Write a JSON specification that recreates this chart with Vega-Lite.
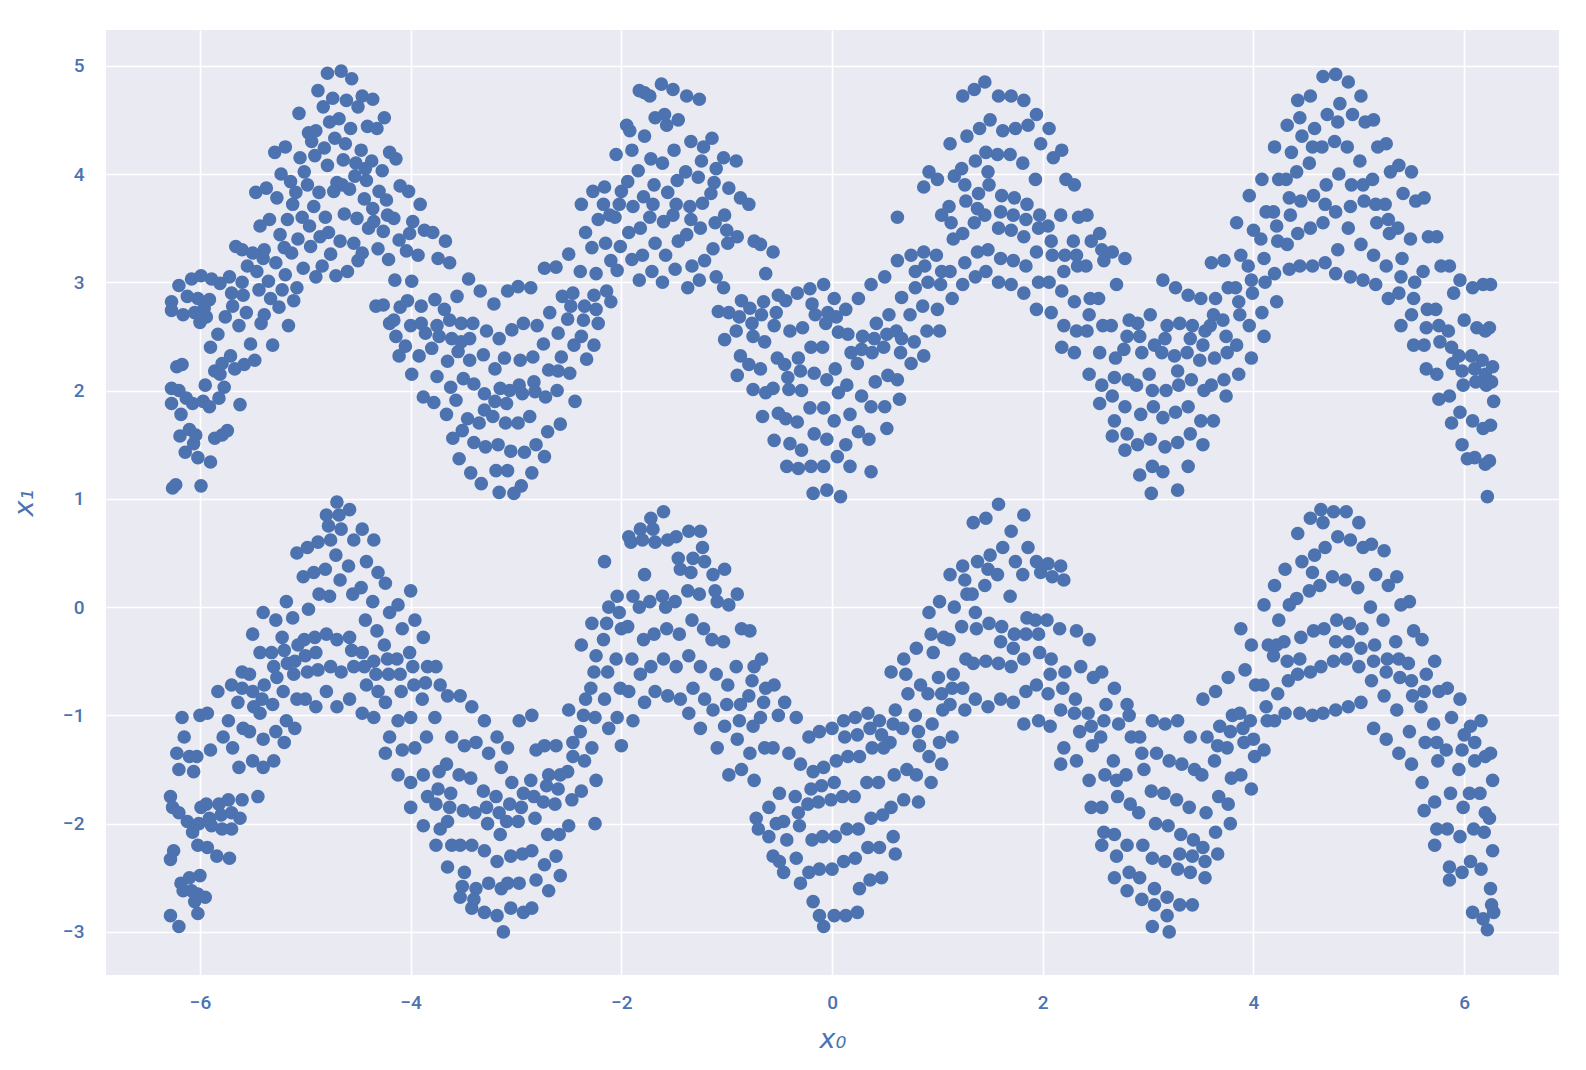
{"$schema":"https://vega.github.io/schema/vega-lite/v6.json","width":1453,"height":945,"padding":{"left":106,"top":30,"right":27,"bottom":95},"autosize":{"type":"none"},"background":"white","view":{"fill":"#EAEAF2","stroke":null},
"data":{"values":[
{"a":-6.27,"b":2.82},{"a":-6.27,"b":2.74},{"a":-6.2,"b":2.97},{"a":-6.16,"b":2.7},{"a":-6.22,"b":2.22},{"a":-6.27,"b":2.02},{"a":-6.27,"b":1.88},{"a":-6.17,"b":2.24},{"a":-6.2,"b":2},{"a":-6.26,"b":1.1},{"a":-6.23,"b":1.13},{"a":-6.19,"b":1.58},{"a":-6.14,"b":1.43},{"a":-6.18,"b":1.78},
{"a":-6.12,"b":2.87},{"a":-6.08,"b":3.03},{"a":-6.05,"b":2.72},{"a":-6.13,"b":1.93},{"a":-6.07,"b":1.88},{"a":-6.06,"b":1.51},{"a":-6.1,"b":1.64},{"a":-6.02,"b":2.85},
{"a":-5.99,"b":3.06},{"a":-5.96,"b":2.76},{"a":-6,"b":2.63},{"a":-5.97,"b":1.9},{"a":-6.02,"b":1.38},{"a":-5.99,"b":1.12},{"a":-6.04,"b":1.59},{"a":-5.95,"b":2.05},
{"a":-5.89,"b":3.03},{"a":-5.91,"b":2.84},{"a":-5.94,"b":2.68},{"a":-5.9,"b":2.4},{"a":-5.86,"b":2.18},{"a":-5.91,"b":1.85},{"a":-5.9,"b":1.34},{"a":-5.86,"b":1.56},
{"a":-5.81,"b":2.99},{"a":-5.76,"b":2.68},{"a":-5.83,"b":2.52},{"a":-5.81,"b":2.15},{"a":-5.77,"b":2.03},{"a":-5.79,"b":1.59},{"a":-5.74,"b":1.63},{"a":-5.82,"b":1.93},{"a":-5.79,"b":2.25},
{"a":-5.66,"b":3.33},{"a":-5.72,"b":3.05},{"a":-5.69,"b":2.78},{"a":-5.63,"b":2.6},{"a":-5.71,"b":2.32},{"a":-5.67,"b":2.2},{"a":-5.62,"b":1.87},{"a":-5.7,"b":2.9},
{"a":-5.6,"b":3.3},{"a":-5.55,"b":3.15},{"a":-5.59,"b":2.88},{"a":-5.56,"b":2.72},{"a":-5.52,"b":2.43},{"a":-5.58,"b":2.24},{"a":-5.6,"b":3},
{"a":-5.47,"b":3.83},{"a":-5.43,"b":3.52},{"a":-5.5,"b":3.27},{"a":-5.46,"b":3.1},{"a":-5.44,"b":2.93},{"a":-5.42,"b":2.62},{"a":-5.48,"b":2.28},{"a":-5.4,"b":3.22},
{"a":-5.37,"b":3.87},{"a":-5.34,"b":3.58},{"a":-5.39,"b":3.3},{"a":-5.35,"b":3.01},{"a":-5.33,"b":2.85},{"a":-5.39,"b":2.7},{"a":-5.31,"b":2.42},
{"a":-5.29,"b":4.2},{"a":-5.23,"b":4},{"a":-5.27,"b":3.78},{"a":-5.24,"b":3.44},{"a":-5.28,"b":3.18},{"a":-5.22,"b":2.93},{"a":-5.25,"b":2.77},{"a":-5.2,"b":3.32},
{"a":-5.19,"b":4.25},{"a":-5.14,"b":3.93},{"a":-5.12,"b":3.72},{"a":-5.17,"b":3.58},{"a":-5.13,"b":3.27},{"a":-5.19,"b":3.07},{"a":-5.11,"b":2.83},{"a":-5.16,"b":2.6},
{"a":-5.06,"b":4.56},{"a":-5.01,"b":4.02},{"a":-5.09,"b":3.83},{"a":-5.03,"b":3.6},{"a":-5.07,"b":3.4},{"a":-5.02,"b":3.13},{"a":-5.08,"b":2.95},{"a":-5.05,"b":4.15},
{"a":-4.97,"b":4.38},{"a":-4.91,"b":4.17},{"a":-4.98,"b":3.9},{"a":-4.92,"b":3.7},{"a":-4.95,"b":3.33},{"a":-4.9,"b":3.05},{"a":-4.96,"b":3.52},{"a":-4.94,"b":4.3},
{"a":-4.88,"b":4.77},{"a":-4.83,"b":4.62},{"a":-4.9,"b":4.4},{"a":-4.82,"b":4.24},{"a":-4.87,"b":3.83},{"a":-4.81,"b":3.6},{"a":-4.86,"b":3.42},{"a":-4.84,"b":3.15},
{"a":-4.79,"b":4.93},{"a":-4.74,"b":4.7},{"a":-4.77,"b":4.48},{"a":-4.72,"b":4.33},{"a":-4.79,"b":4.08},{"a":-4.73,"b":3.84},{"a":-4.78,"b":3.46},{"a":-4.71,"b":3.06},{"a":-4.76,"b":3.26},{"a":-4.7,"b":3.92},
{"a":-4.66,"b":4.95},{"a":-4.61,"b":4.68},{"a":-4.68,"b":4.51},{"a":-4.62,"b":4.28},{"a":-4.65,"b":3.9},{"a":-4.63,"b":3.63},{"a":-4.67,"b":3.38},{"a":-4.6,"b":3.1},{"a":-4.64,"b":4.13},
{"a":-4.56,"b":4.88},{"a":-4.5,"b":4.62},{"a":-4.57,"b":4.42},{"a":-4.52,"b":4.1},{"a":-4.58,"b":3.86},{"a":-4.51,"b":3.59},{"a":-4.54,"b":3.36},{"a":-4.5,"b":3.2},{"a":-4.53,"b":3.98},
{"a":-4.46,"b":4.72},{"a":-4.41,"b":4.44},{"a":-4.47,"b":4.22},{"a":-4.42,"b":3.94},{"a":-4.44,"b":3.77},{"a":-4.4,"b":3.5},{"a":-4.46,"b":3.27},{"a":-4.43,"b":4.05},
{"a":-4.36,"b":4.69},{"a":-4.32,"b":4.42},{"a":-4.37,"b":4.12},{"a":-4.3,"b":3.84},{"a":-4.35,"b":3.56},{"a":-4.31,"b":3.31},{"a":-4.33,"b":2.78},{"a":-4.36,"b":3.68},
{"a":-4.25,"b":4.52},{"a":-4.2,"b":4.2},{"a":-4.27,"b":4.03},{"a":-4.23,"b":3.76},{"a":-4.26,"b":3.47},{"a":-4.21,"b":3.21},{"a":-4.2,"b":2.62},{"a":-4.26,"b":2.79},{"a":-4.22,"b":3.62},
{"a":-4.14,"b":4.14},{"a":-4.1,"b":3.89},{"a":-4.16,"b":3.59},{"a":-4.11,"b":3.39},{"a":-4.15,"b":3.02},{"a":-4.1,"b":2.77},{"a":-4.14,"b":2.5},{"a":-4.11,"b":2.32},{"a":-4.16,"b":2.65},
{"a":-4.02,"b":3.84},{"a":-3.98,"b":3.56},{"a":-4.04,"b":3.29},{"a":-3.99,"b":3.01},{"a":-4.03,"b":2.83},{"a":-4,"b":2.6},{"a":-4.05,"b":2.41},{"a":-3.99,"b":2.15},{"a":-4.01,"b":3.45},
{"a":-3.91,"b":3.72},{"a":-3.87,"b":3.48},{"a":-3.93,"b":3.25},{"a":-3.9,"b":2.78},{"a":-3.86,"b":2.53},{"a":-3.92,"b":2.32},{"a":-3.88,"b":1.94},{"a":-3.9,"b":2.62},
{"a":-3.79,"b":3.46},{"a":-3.74,"b":3.22},{"a":-3.77,"b":2.84},{"a":-3.75,"b":2.6},{"a":-3.8,"b":2.39},{"a":-3.75,"b":2.13},{"a":-3.78,"b":1.89},{"a":-3.73,"b":2.5},
{"a":-3.67,"b":3.38},{"a":-3.63,"b":3.18},{"a":-3.68,"b":2.75},{"a":-3.61,"b":2.48},{"a":-3.65,"b":2.27},{"a":-3.62,"b":2.03},{"a":-3.66,"b":1.78},{"a":-3.6,"b":1.56},{"a":-3.63,"b":2.65},
{"a":-3.56,"b":2.87},{"a":-3.52,"b":2.62},{"a":-3.55,"b":2.36},{"a":-3.5,"b":2.11},{"a":-3.57,"b":1.91},{"a":-3.51,"b":1.63},{"a":-3.54,"b":1.37},{"a":-3.52,"b":2.45},
{"a":-3.45,"b":3.03},{"a":-3.41,"b":2.62},{"a":-3.44,"b":2.28},{"a":-3.4,"b":2.06},{"a":-3.46,"b":1.74},{"a":-3.4,"b":1.52},{"a":-3.43,"b":1.24},{"a":-3.44,"b":2.48},
{"a":-3.34,"b":2.92},{"a":-3.28,"b":2.55},{"a":-3.31,"b":2.33},{"a":-3.3,"b":1.97},{"a":-3.35,"b":1.7},{"a":-3.29,"b":1.48},{"a":-3.33,"b":1.14},{"a":-3.3,"b":1.82},
{"a":-3.21,"b":2.8},{"a":-3.16,"b":2.48},{"a":-3.2,"b":2.2},{"a":-3.15,"b":2.02},{"a":-3.22,"b":1.76},{"a":-3.17,"b":1.5},{"a":-3.19,"b":1.26},{"a":-3.16,"b":1.06},{"a":-3.2,"b":1.9},
{"a":-3.08,"b":2.92},{"a":-3.04,"b":2.56},{"a":-3.11,"b":2.3},{"a":-3.06,"b":2},{"a":-3.1,"b":1.7},{"a":-3.05,"b":1.44},{"a":-3.08,"b":1.26},{"a":-3.02,"b":1.05},{"a":-3.09,"b":1.88},
{"a":-2.98,"b":2.96},{"a":-2.93,"b":2.62},{"a":-2.96,"b":2.28},{"a":-2.94,"b":1.97},{"a":-2.98,"b":1.7},{"a":-2.92,"b":1.43},{"a":-2.95,"b":1.12},{"a":-2.97,"b":2.05},
{"a":-2.86,"b":2.95},{"a":-2.8,"b":2.6},{"a":-2.84,"b":2.31},{"a":-2.82,"b":1.99},{"a":-2.87,"b":1.76},{"a":-2.81,"b":1.5},{"a":-2.85,"b":1.24},{"a":-2.83,"b":2.08},
{"a":-2.73,"b":3.13},{"a":-2.68,"b":2.72},{"a":-2.74,"b":2.43},{"a":-2.69,"b":2.19},{"a":-2.72,"b":1.94},{"a":-2.7,"b":1.62},{"a":-2.73,"b":1.39},
{"a":-2.62,"b":3.14},{"a":-2.56,"b":2.87},{"a":-2.6,"b":2.53},{"a":-2.57,"b":2.31},{"a":-2.61,"b":2},{"a":-2.58,"b":1.69},{"a":-2.6,"b":2.18},
{"a":-2.5,"b":3.26},{"a":-2.46,"b":2.9},{"a":-2.51,"b":2.66},{"a":-2.45,"b":2.42},{"a":-2.49,"b":2.16},{"a":-2.44,"b":1.9},{"a":-2.48,"b":2.78},
{"a":-2.38,"b":3.72},{"a":-2.34,"b":3.46},{"a":-2.39,"b":3.1},{"a":-2.35,"b":2.78},{"a":-2.38,"b":2.5},{"a":-2.33,"b":2.29},{"a":-2.36,"b":2.65},
{"a":-2.27,"b":3.84},{"a":-2.22,"b":3.58},{"a":-2.28,"b":3.32},{"a":-2.24,"b":3.08},{"a":-2.26,"b":2.88},{"a":-2.22,"b":2.62},{"a":-2.26,"b":2.42},{"a":-2.24,"b":2.75},
{"a":-2.16,"b":3.88},{"a":-2.11,"b":3.62},{"a":-2.15,"b":3.36},{"a":-2.1,"b":3.2},{"a":-2.14,"b":2.92},{"a":-2.1,"b":2.82},{"a":-2.17,"b":3.72},
{"a":-2.05,"b":4.18},{"a":-2,"b":3.84},{"a":-2.06,"b":3.6},{"a":-2.01,"b":3.33},{"a":-2.04,"b":3.11},{"a":-2.02,"b":3.72},
{"a":-1.95,"b":4.45},{"a":-1.9,"b":4.22},{"a":-1.94,"b":3.93},{"a":-1.89,"b":3.7},{"a":-1.93,"b":3.46},{"a":-1.9,"b":3.21},{"a":-1.92,"b":4.4},
{"a":-1.83,"b":4.77},{"a":-1.78,"b":4.35},{"a":-1.84,"b":4.03},{"a":-1.79,"b":3.79},{"a":-1.82,"b":3.5},{"a":-1.8,"b":3.25},{"a":-1.83,"b":3.02},{"a":-1.78,"b":4.75},
{"a":-1.73,"b":4.72},{"a":-1.68,"b":4.52},{"a":-1.72,"b":4.14},{"a":-1.69,"b":3.9},{"a":-1.73,"b":3.6},{"a":-1.68,"b":3.36},{"a":-1.71,"b":3.1},{"a":-1.7,"b":3.72},
{"a":-1.62,"b":4.83},{"a":-1.57,"b":4.45},{"a":-1.61,"b":4.1},{"a":-1.56,"b":3.83},{"a":-1.6,"b":3.56},{"a":-1.58,"b":3.25},{"a":-1.61,"b":3},{"a":-1.59,"b":4.55},
{"a":-1.51,"b":4.78},{"a":-1.46,"b":4.5},{"a":-1.5,"b":4.22},{"a":-1.47,"b":3.94},{"a":-1.51,"b":3.62},{"a":-1.46,"b":3.38},{"a":-1.49,"b":3.12},{"a":-1.48,"b":3.72},
{"a":-1.38,"b":4.72},{"a":-1.34,"b":4.3},{"a":-1.39,"b":4.02},{"a":-1.35,"b":3.7},{"a":-1.38,"b":3.44},{"a":-1.33,"b":3.15},{"a":-1.37,"b":2.95},{"a":-1.34,"b":3.58},
{"a":-1.26,"b":4.69},{"a":-1.22,"b":4.25},{"a":-1.27,"b":3.97},{"a":-1.23,"b":3.73},{"a":-1.25,"b":3.5},{"a":-1.21,"b":3.2},{"a":-1.26,"b":3.02},{"a":-1.24,"b":4.12},
{"a":-1.14,"b":4.33},{"a":-1.1,"b":4.05},{"a":-1.15,"b":3.82},{"a":-1.11,"b":3.55},{"a":-1.13,"b":3.31},{"a":-1.1,"b":3.05},{"a":-1.08,"b":2.73},{"a":-1.12,"b":3.92},
{"a":-1.03,"b":4.15},{"a":-0.98,"b":3.87},{"a":-1.02,"b":3.62},{"a":-0.99,"b":3.36},{"a":-1.03,"b":2.95},{"a":-0.98,"b":2.72},{"a":-1.02,"b":2.47},{"a":-1,"b":3.48},
{"a":-0.91,"b":4.12},{"a":-0.87,"b":3.78},{"a":-0.9,"b":3.42},{"a":-0.86,"b":2.83},{"a":-0.91,"b":2.55},{"a":-0.87,"b":2.32},{"a":-0.9,"b":2.14},{"a":-0.88,"b":2.68},
{"a":-0.79,"b":3.72},{"a":-0.74,"b":3.38},{"a":-0.78,"b":2.76},{"a":-0.75,"b":2.5},{"a":-0.79,"b":2.24},{"a":-0.75,"b":2.01},{"a":-0.76,"b":2.62},
{"a":-0.68,"b":3.35},{"a":-0.63,"b":3.08},{"a":-0.67,"b":2.7},{"a":-0.64,"b":2.45},{"a":-0.68,"b":2.2},{"a":-0.63,"b":1.98},{"a":-0.66,"b":1.76},{"a":-0.65,"b":2.82},
{"a":-0.56,"b":3.28},{"a":-0.51,"b":2.88},{"a":-0.55,"b":2.6},{"a":-0.52,"b":2.3},{"a":-0.56,"b":2.02},{"a":-0.51,"b":1.79},{"a":-0.55,"b":1.54},{"a":-0.53,"b":2.72},
{"a":-0.44,"b":2.83},{"a":-0.4,"b":2.55},{"a":-0.45,"b":2.24},{"a":-0.41,"b":2.01},{"a":-0.44,"b":1.74},{"a":-0.4,"b":1.51},{"a":-0.43,"b":1.3},{"a":-0.42,"b":2.12},
{"a":-0.33,"b":2.9},{"a":-0.28,"b":2.58},{"a":-0.32,"b":2.3},{"a":-0.29,"b":2},{"a":-0.33,"b":1.71},{"a":-0.29,"b":1.45},{"a":-0.32,"b":1.28},{"a":-0.3,"b":2.18},
{"a":-0.21,"b":2.94},{"a":-0.16,"b":2.7},{"a":-0.2,"b":2.4},{"a":-0.17,"b":2.16},{"a":-0.21,"b":1.84},{"a":-0.17,"b":1.6},{"a":-0.2,"b":1.3},{"a":-0.18,"b":1.05},{"a":-0.19,"b":2.8},
{"a":-0.08,"b":2.98},{"a":-0.04,"b":2.72},{"a":-0.09,"b":2.4},{"a":-0.05,"b":2.1},{"a":-0.08,"b":1.84},{"a":-0.05,"b":1.55},{"a":-0.08,"b":1.3},{"a":-0.05,"b":1.08},{"a":-0.06,"b":2.62},
{"a":0.02,"b":2.85},{"a":0.06,"b":2.54},{"a":0.03,"b":2.2},{"a":0.06,"b":1.98},{"a":0.02,"b":1.72},{"a":0.05,"b":1.39},{"a":0.08,"b":1.02},{"a":0.04,"b":2.68},
{"a":0.13,"b":2.75},{"a":0.18,"b":2.35},{"a":0.14,"b":2.05},{"a":0.17,"b":1.78},{"a":0.13,"b":1.5},{"a":0.17,"b":1.3},{"a":0.15,"b":2.52},
{"a":0.25,"b":2.85},{"a":0.29,"b":2.5},{"a":0.24,"b":2.25},{"a":0.28,"b":1.95},{"a":0.25,"b":1.62},{"a":0.37,"b":1.25},{"a":0.28,"b":2.38},
{"a":0.37,"b":2.98},{"a":0.42,"b":2.62},{"a":0.38,"b":2.35},{"a":0.41,"b":2.08},{"a":0.37,"b":1.85},{"a":0.35,"b":1.55},{"a":0.4,"b":2.48},
{"a":0.5,"b":3.05},{"a":0.54,"b":2.7},{"a":0.49,"b":2.4},{"a":0.53,"b":2.14},{"a":0.5,"b":1.85},{"a":0.52,"b":1.65},{"a":0.52,"b":2.52},
{"a":0.62,"b":3.2},{"a":0.66,"b":2.86},{"a":0.61,"b":2.55},{"a":0.65,"b":2.35},{"a":0.62,"b":2.1},{"a":0.64,"b":1.92},{"a":0.66,"b":2.48},
{"a":0.75,"b":3.25},{"a":0.79,"b":2.95},{"a":0.74,"b":2.7},{"a":0.78,"b":2.45},{"a":0.75,"b":2.25},{"a":0.62,"b":3.6},{"a":0.79,"b":3.1},
{"a":0.87,"b":3.28},{"a":0.91,"b":3},{"a":0.86,"b":2.78},{"a":0.9,"b":2.55},{"a":0.87,"b":2.32},{"a":0.87,"b":3.88},{"a":0.92,"b":4.02},{"a":0.88,"b":3.15},
{"a":1,"b":3.95},{"a":1.04,"b":3.62},{"a":0.99,"b":3.25},{"a":1.03,"b":2.98},{"a":1,"b":2.75},{"a":1.02,"b":2.55},{"a":1.04,"b":3.1},
{"a":1.12,"b":4.28},{"a":1.16,"b":3.98},{"a":1.11,"b":3.7},{"a":1.15,"b":3.4},{"a":1.12,"b":3.1},{"a":1.14,"b":2.85},{"a":1.13,"b":3.55},
{"a":1.24,"b":4.72},{"a":1.28,"b":4.35},{"a":1.23,"b":4.05},{"a":1.27,"b":3.75},{"a":1.24,"b":3.45},{"a":1.26,"b":3.18},{"a":1.24,"b":2.98},{"a":1.26,"b":3.9},
{"a":1.35,"b":4.78},{"a":1.4,"b":4.42},{"a":1.36,"b":4.12},{"a":1.39,"b":3.82},{"a":1.35,"b":3.55},{"a":1.38,"b":3.28},{"a":1.36,"b":3.05},{"a":1.38,"b":3.68},
{"a":1.45,"b":4.85},{"a":1.5,"b":4.5},{"a":1.46,"b":4.2},{"a":1.49,"b":3.9},{"a":1.45,"b":3.62},{"a":1.48,"b":3.3},{"a":1.46,"b":3.1},{"a":1.48,"b":4.02},
{"a":1.58,"b":4.72},{"a":1.62,"b":4.4},{"a":1.57,"b":4.18},{"a":1.61,"b":3.8},{"a":1.58,"b":3.5},{"a":1.6,"b":3.22},{"a":1.58,"b":3},{"a":1.6,"b":3.65},
{"a":1.7,"b":4.72},{"a":1.74,"b":4.42},{"a":1.69,"b":4.18},{"a":1.73,"b":3.78},{"a":1.7,"b":3.48},{"a":1.72,"b":3.2},{"a":1.7,"b":2.98},{"a":1.72,"b":3.62},
{"a":1.82,"b":4.68},{"a":1.86,"b":4.45},{"a":1.81,"b":4.1},{"a":1.85,"b":3.72},{"a":1.82,"b":3.42},{"a":1.84,"b":3.15},{"a":1.82,"b":2.9},{"a":1.84,"b":3.58},
{"a":1.94,"b":4.55},{"a":1.98,"b":4.28},{"a":1.93,"b":3.95},{"a":1.97,"b":3.62},{"a":1.94,"b":3.28},{"a":1.96,"b":3},{"a":1.94,"b":2.75},{"a":1.96,"b":3.5},
{"a":2.06,"b":4.42},{"a":2.1,"b":4.15},{"a":2.05,"b":3.52},{"a":2.09,"b":3.25},{"a":2.06,"b":3},{"a":2.08,"b":2.72},{"a":2.08,"b":3.38},
{"a":2.18,"b":4.22},{"a":2.22,"b":3.95},{"a":2.17,"b":3.62},{"a":2.21,"b":3.25},{"a":2.18,"b":2.92},{"a":2.2,"b":2.6},{"a":2.18,"b":2.4},{"a":2.2,"b":3.1},
{"a":2.3,"b":3.9},{"a":2.34,"b":3.6},{"a":2.29,"b":3.38},{"a":2.33,"b":3.15},{"a":2.3,"b":2.82},{"a":2.32,"b":2.55},{"a":2.3,"b":2.35},{"a":2.32,"b":3.25},
{"a":2.42,"b":3.62},{"a":2.46,"b":3.38},{"a":2.41,"b":3.15},{"a":2.45,"b":2.85},{"a":2.42,"b":2.55},{"a":2.44,"b":2.15},{"a":2.44,"b":2.7},
{"a":2.54,"b":3.45},{"a":2.58,"b":3.2},{"a":2.53,"b":2.85},{"a":2.57,"b":2.6},{"a":2.54,"b":2.35},{"a":2.56,"b":2.05},{"a":2.54,"b":1.88},{"a":2.56,"b":3.3},
{"a":2.66,"b":3.28},{"a":2.7,"b":2.98},{"a":2.65,"b":2.6},{"a":2.69,"b":2.3},{"a":2.66,"b":1.95},{"a":2.68,"b":1.72},{"a":2.66,"b":1.58},{"a":2.68,"b":2.12},
{"a":2.78,"b":3.22},{"a":2.82,"b":2.65},{"a":2.77,"b":2.38},{"a":2.81,"b":2.1},{"a":2.78,"b":1.85},{"a":2.8,"b":1.6},{"a":2.78,"b":1.45},{"a":2.8,"b":2.5},
{"a":2.9,"b":2.62},{"a":2.94,"b":2.35},{"a":2.89,"b":2.05},{"a":2.93,"b":1.78},{"a":2.9,"b":1.5},{"a":2.92,"b":1.22},{"a":2.92,"b":2.5},
{"a":3.02,"b":2.7},{"a":3.06,"b":2.42},{"a":3.01,"b":2.15},{"a":3.05,"b":1.85},{"a":3.02,"b":1.55},{"a":3.04,"b":1.3},{"a":3.03,"b":1.05},{"a":3.04,"b":2},
{"a":3.14,"b":3.02},{"a":3.18,"b":2.6},{"a":3.13,"b":2.35},{"a":3.17,"b":2},{"a":3.14,"b":1.75},{"a":3.16,"b":1.48},{"a":3.14,"b":1.25},{"a":3.16,"b":2.48},
{"a":3.26,"b":2.95},{"a":3.3,"b":2.62},{"a":3.25,"b":2.32},{"a":3.29,"b":2.05},{"a":3.26,"b":1.8},{"a":3.28,"b":1.52},{"a":3.28,"b":1.08},{"a":3.28,"b":2.18},
{"a":3.38,"b":2.88},{"a":3.42,"b":2.6},{"a":3.37,"b":2.35},{"a":3.41,"b":2.1},{"a":3.38,"b":1.85},{"a":3.4,"b":1.6},{"a":3.38,"b":1.3},{"a":3.4,"b":2.48},
{"a":3.5,"b":2.85},{"a":3.54,"b":2.55},{"a":3.49,"b":2.28},{"a":3.53,"b":2},{"a":3.5,"b":1.72},{"a":3.52,"b":1.5},{"a":3.52,"b":2.42},
{"a":3.6,"b":3.18},{"a":3.64,"b":2.85},{"a":3.59,"b":2.6},{"a":3.63,"b":2.3},{"a":3.6,"b":2.05},{"a":3.62,"b":1.72},{"a":3.62,"b":2.7},
{"a":3.72,"b":3.2},{"a":3.76,"b":2.95},{"a":3.71,"b":2.65},{"a":3.75,"b":2.35},{"a":3.72,"b":2.1},{"a":3.74,"b":1.95},{"a":3.74,"b":2.5},
{"a":3.84,"b":3.55},{"a":3.88,"b":3.25},{"a":3.83,"b":2.95},{"a":3.87,"b":2.7},{"a":3.84,"b":2.42},{"a":3.86,"b":2.15},{"a":3.86,"b":2.82},
{"a":3.96,"b":3.8},{"a":4,"b":3.48},{"a":3.95,"b":3.15},{"a":3.99,"b":2.9},{"a":3.96,"b":2.6},{"a":3.98,"b":2.3},{"a":3.98,"b":3.02},
{"a":4.08,"b":3.95},{"a":4.12,"b":3.65},{"a":4.07,"b":3.4},{"a":4.11,"b":3},{"a":4.08,"b":2.72},{"a":4.1,"b":2.5},{"a":4.1,"b":3.22},
{"a":4.2,"b":4.25},{"a":4.24,"b":3.95},{"a":4.19,"b":3.65},{"a":4.23,"b":3.38},{"a":4.2,"b":3.08},{"a":4.22,"b":2.82},{"a":4.22,"b":3.52},
{"a":4.32,"b":4.45},{"a":4.36,"b":4.2},{"a":4.31,"b":3.95},{"a":4.35,"b":3.62},{"a":4.32,"b":3.35},{"a":4.34,"b":3.12},{"a":4.34,"b":3.78},
{"a":4.42,"b":4.68},{"a":4.46,"b":4.35},{"a":4.41,"b":4.02},{"a":4.45,"b":3.75},{"a":4.42,"b":3.45},{"a":4.44,"b":3.15},{"a":4.44,"b":4.52},
{"a":4.54,"b":4.72},{"a":4.58,"b":4.42},{"a":4.53,"b":4.1},{"a":4.57,"b":3.8},{"a":4.54,"b":3.5},{"a":4.56,"b":3.15},{"a":4.56,"b":4.25},
{"a":4.66,"b":4.9},{"a":4.7,"b":4.55},{"a":4.65,"b":4.25},{"a":4.69,"b":3.9},{"a":4.66,"b":3.55},{"a":4.68,"b":3.18},{"a":4.68,"b":3.72},
{"a":4.78,"b":4.92},{"a":4.82,"b":4.65},{"a":4.77,"b":4.3},{"a":4.81,"b":4},{"a":4.78,"b":3.65},{"a":4.8,"b":3.3},{"a":4.78,"b":3.08},{"a":4.8,"b":4.48},
{"a":4.9,"b":4.85},{"a":4.94,"b":4.55},{"a":4.89,"b":4.25},{"a":4.93,"b":3.9},{"a":4.9,"b":3.5},{"a":4.92,"b":3.05},{"a":4.92,"b":3.7},
{"a":5.02,"b":4.72},{"a":5.06,"b":4.48},{"a":5.01,"b":4.12},{"a":5.05,"b":3.75},{"a":5.02,"b":3.35},{"a":5.04,"b":3.02},{"a":5.04,"b":3.9},
{"a":5.14,"b":4.5},{"a":5.18,"b":4.25},{"a":5.13,"b":3.95},{"a":5.17,"b":3.55},{"a":5.14,"b":3.25},{"a":5.16,"b":2.98},{"a":5.16,"b":3.72},
{"a":5.26,"b":4.28},{"a":5.3,"b":4.02},{"a":5.25,"b":3.72},{"a":5.29,"b":3.45},{"a":5.26,"b":3.15},{"a":5.28,"b":2.85},{"a":5.28,"b":3.58},
{"a":5.38,"b":4.08},{"a":5.42,"b":3.82},{"a":5.37,"b":3.5},{"a":5.41,"b":3.22},{"a":5.38,"b":2.9},{"a":5.4,"b":2.6},{"a":5.4,"b":3.05},
{"a":5.5,"b":4.02},{"a":5.54,"b":3.75},{"a":5.49,"b":3.4},{"a":5.53,"b":3},{"a":5.5,"b":2.7},{"a":5.52,"b":2.42},{"a":5.52,"b":2.85},
{"a":5.62,"b":3.78},{"a":5.66,"b":3.42},{"a":5.61,"b":3.1},{"a":5.65,"b":2.75},{"a":5.62,"b":2.42},{"a":5.64,"b":2.2},{"a":5.64,"b":2.58},
{"a":5.74,"b":3.42},{"a":5.78,"b":3.15},{"a":5.73,"b":2.75},{"a":5.77,"b":2.45},{"a":5.74,"b":2.15},{"a":5.76,"b":1.92},{"a":5.76,"b":2.6},
{"a":5.86,"b":3.15},{"a":5.9,"b":2.9},{"a":5.85,"b":2.55},{"a":5.89,"b":2.25},{"a":5.86,"b":1.95},{"a":5.88,"b":1.7},{"a":5.88,"b":2.4},
{"a":5.96,"b":3.02},{"a":6,"b":2.65},{"a":5.95,"b":2.32},{"a":5.99,"b":2.05},{"a":5.96,"b":1.8},{"a":5.98,"b":1.5},{"a":5.98,"b":2.18},
{"a":6.08,"b":2.95},{"a":6.12,"b":2.58},{"a":6.07,"b":2.32},{"a":6.11,"b":2.08},{"a":6.08,"b":1.72},{"a":6.1,"b":1.38},{"a":6.03,"b":1.37},{"a":6.1,"b":2.2},
{"a":6.18,"b":2.98},{"a":6.2,"b":2.55},{"a":6.17,"b":2.28},{"a":6.21,"b":2.05},{"a":6.18,"b":1.65},{"a":6.2,"b":1.32},{"a":6.2,"b":2.15},
{"a":6.25,"b":2.98},{"a":6.24,"b":2.58},{"a":6.27,"b":2.22},{"a":6.28,"b":1.9},{"a":6.25,"b":1.68},{"a":6.24,"b":1.35},{"a":6.22,"b":1.02},{"a":6.26,"b":2.08},
{"a":-6.28,"b":-1.75},{"a":-6.26,"b":-1.85},{"a":-6.28,"b":-2.33},{"a":-6.25,"b":-2.25},{"a":-6.28,"b":-2.85},{"a":-6.2,"b":-2.95},{"a":-6.22,"b":-1.35},{"a":-6.2,"b":-1.5},{"a":-6.2,"b":-1.9},{"a":-6.18,"b":-2.55},{"a":-6.16,"b":-2.62},{"a":-6.17,"b":-1.02},{"a":-6.15,"b":-1.2},
{"a":-6.1,"b":-1.38},{"a":-6.06,"b":-1.52},{"a":-6.12,"b":-1.98},{"a":-6.07,"b":-2.08},{"a":-6.1,"b":-2.5},{"a":-6.05,"b":-2.72},{"a":-6.08,"b":-2.62},
{"a":-6,"b":-1},{"a":-6.03,"b":-1.38},{"a":-5.99,"b":-1.85},{"a":-6.02,"b":-2.2},{"a":-6,"b":-2.48},{"a":-6.02,"b":-2.65},{"a":-6.02,"b":-2.83},{"a":-6.01,"b":-2},
{"a":-5.93,"b":-0.98},{"a":-5.9,"b":-1.32},{"a":-5.94,"b":-1.82},{"a":-5.89,"b":-2.02},{"a":-5.93,"b":-2.22},{"a":-5.95,"b":-2.68},{"a":-5.91,"b":-1.95},
{"a":-5.83,"b":-0.78},{"a":-5.78,"b":-1.2},{"a":-5.82,"b":-1.82},{"a":-5.79,"b":-2.05},{"a":-5.84,"b":-2.3},{"a":-5.8,"b":-1.92},
{"a":-5.7,"b":-0.72},{"a":-5.73,"b":-1.05},{"a":-5.69,"b":-1.3},{"a":-5.73,"b":-1.78},{"a":-5.7,"b":-2.05},{"a":-5.72,"b":-2.32},{"a":-5.7,"b":-1.9},
{"a":-5.6,"b":-0.6},{"a":-5.64,"b":-0.88},{"a":-5.59,"b":-1.12},{"a":-5.63,"b":-1.48},{"a":-5.6,"b":-1.78},{"a":-5.62,"b":-1.95},{"a":-5.6,"b":-0.75},
{"a":-5.5,"b":-0.25},{"a":-5.53,"b":-0.62},{"a":-5.49,"b":-0.92},{"a":-5.53,"b":-1.15},{"a":-5.5,"b":-1.42},{"a":-5.45,"b":-1.75},{"a":-5.5,"b":-0.78},
{"a":-5.4,"b":-0.05},{"a":-5.43,"b":-0.42},{"a":-5.39,"b":-0.72},{"a":-5.43,"b":-0.98},{"a":-5.4,"b":-1.22},{"a":-5.4,"b":-1.48},{"a":-5.41,"b":-0.85},
{"a":-5.28,"b":-0.12},{"a":-5.32,"b":-0.42},{"a":-5.27,"b":-0.65},{"a":-5.31,"b":-0.9},{"a":-5.28,"b":-1.15},{"a":-5.3,"b":-1.42},{"a":-5.3,"b":-0.55},
{"a":-5.18,"b":0.05},{"a":-5.22,"b":-0.28},{"a":-5.17,"b":-0.52},{"a":-5.21,"b":-0.78},{"a":-5.18,"b":-1.05},{"a":-5.2,"b":-1.25},{"a":-5.2,"b":-0.4},
{"a":-5.08,"b":0.5},{"a":-5.12,"b":-0.1},{"a":-5.07,"b":-0.35},{"a":-5.11,"b":-0.62},{"a":-5.08,"b":-0.85},{"a":-5.1,"b":-1.12},{"a":-5.1,"b":-0.5},
{"a":-4.98,"b":0.55},{"a":-5.02,"b":0.28},{"a":-4.97,"b":-0.02},{"a":-5.01,"b":-0.3},{"a":-4.98,"b":-0.6},{"a":-5,"b":-0.85},{"a":-5,"b":-0.45},
{"a":-4.88,"b":0.6},{"a":-4.92,"b":0.32},{"a":-4.87,"b":0.12},{"a":-4.91,"b":-0.28},{"a":-4.88,"b":-0.58},{"a":-4.9,"b":-0.92},{"a":-4.9,"b":-0.42},
{"a":-4.8,"b":0.85},{"a":-4.76,"b":0.62},{"a":-4.81,"b":0.35},{"a":-4.77,"b":0.1},{"a":-4.8,"b":-0.25},{"a":-4.76,"b":-0.55},{"a":-4.8,"b":-0.78},{"a":-4.78,"b":0.75},
{"a":-4.7,"b":0.97},{"a":-4.66,"b":0.72},{"a":-4.71,"b":0.48},{"a":-4.67,"b":0.25},{"a":-4.7,"b":-0.3},{"a":-4.66,"b":-0.6},{"a":-4.7,"b":-0.92},{"a":-4.68,"b":0.85},
{"a":-4.58,"b":0.9},{"a":-4.54,"b":0.62},{"a":-4.59,"b":0.38},{"a":-4.55,"b":0.12},{"a":-4.58,"b":-0.28},{"a":-4.54,"b":-0.55},{"a":-4.58,"b":-0.85},{"a":-4.56,"b":-0.4},
{"a":-4.46,"b":0.72},{"a":-4.42,"b":0.42},{"a":-4.47,"b":0.18},{"a":-4.43,"b":-0.12},{"a":-4.46,"b":-0.42},{"a":-4.42,"b":-0.72},{"a":-4.46,"b":-0.98},{"a":-4.44,"b":-0.55},
{"a":-4.35,"b":0.62},{"a":-4.31,"b":0.32},{"a":-4.36,"b":0.05},{"a":-4.32,"b":-0.22},{"a":-4.35,"b":-0.5},{"a":-4.31,"b":-0.78},{"a":-4.35,"b":-1.02},{"a":-4.33,"b":-0.62},
{"a":-4.24,"b":0.22},{"a":-4.2,"b":-0.05},{"a":-4.25,"b":-0.35},{"a":-4.21,"b":-0.62},{"a":-4.24,"b":-0.88},{"a":-4.2,"b":-1.2},{"a":-4.24,"b":-1.35},{"a":-4.22,"b":-0.48},
{"a":-4.12,"b":0.02},{"a":-4.08,"b":-0.2},{"a":-4.13,"b":-0.48},{"a":-4.09,"b":-0.78},{"a":-4.12,"b":-1.05},{"a":-4.08,"b":-1.32},{"a":-4.12,"b":-1.55},{"a":-4.1,"b":-0.62},
{"a":-4,"b":0.15},{"a":-3.96,"b":-0.12},{"a":-4.01,"b":-0.42},{"a":-3.97,"b":-0.72},{"a":-4,"b":-1.02},{"a":-3.96,"b":-1.3},{"a":-4,"b":-1.62},{"a":-4,"b":-1.85},{"a":-3.98,"b":-0.55},
{"a":-3.88,"b":-0.28},{"a":-3.84,"b":-0.55},{"a":-3.89,"b":-0.85},{"a":-3.85,"b":-1.2},{"a":-3.88,"b":-1.55},{"a":-3.84,"b":-1.75},{"a":-3.88,"b":-2.02},{"a":-3.86,"b":-0.7},
{"a":-3.76,"b":-0.55},{"a":-3.72,"b":-0.72},{"a":-3.77,"b":-1.02},{"a":-3.73,"b":-1.52},{"a":-3.76,"b":-1.82},{"a":-3.72,"b":-2.05},{"a":-3.76,"b":-2.2},{"a":-3.74,"b":-1.68},
{"a":-3.65,"b":-0.82},{"a":-3.61,"b":-1.2},{"a":-3.66,"b":-1.45},{"a":-3.62,"b":-1.72},{"a":-3.65,"b":-1.98},{"a":-3.61,"b":-2.2},{"a":-3.65,"b":-2.4},{"a":-3.63,"b":-1.85},
{"a":-3.53,"b":-0.82},{"a":-3.49,"b":-1.28},{"a":-3.54,"b":-1.55},{"a":-3.5,"b":-1.88},{"a":-3.53,"b":-2.2},{"a":-3.49,"b":-2.45},{"a":-3.53,"b":-2.68},{"a":-3.51,"b":-2.58},
{"a":-3.42,"b":-0.92},{"a":-3.38,"b":-1.25},{"a":-3.43,"b":-1.58},{"a":-3.39,"b":-1.9},{"a":-3.42,"b":-2.2},{"a":-3.38,"b":-2.6},{"a":-3.42,"b":-2.78},{"a":-3.4,"b":-2.7},
{"a":-3.3,"b":-1.05},{"a":-3.26,"b":-1.35},{"a":-3.31,"b":-1.7},{"a":-3.27,"b":-2},{"a":-3.3,"b":-2.25},{"a":-3.26,"b":-2.55},{"a":-3.3,"b":-2.82},{"a":-3.28,"b":-1.85},
{"a":-3.18,"b":-1.2},{"a":-3.14,"b":-1.48},{"a":-3.19,"b":-1.75},{"a":-3.15,"b":-2.1},{"a":-3.18,"b":-2.35},{"a":-3.14,"b":-2.6},{"a":-3.18,"b":-2.85},{"a":-3.16,"b":-1.9},
{"a":-3.08,"b":-1.3},{"a":-3.04,"b":-1.62},{"a":-3.09,"b":-1.98},{"a":-3.05,"b":-2.3},{"a":-3.08,"b":-2.55},{"a":-3.05,"b":-2.78},{"a":-3.12,"b":-3},{"a":-3.06,"b":-1.82},
{"a":-2.97,"b":-1.05},{"a":-2.93,"b":-1.72},{"a":-2.98,"b":-1.98},{"a":-2.94,"b":-2.28},{"a":-2.97,"b":-2.55},{"a":-2.93,"b":-2.82},{"a":-2.95,"b":-1.85},
{"a":-2.85,"b":-1},{"a":-2.81,"b":-1.32},{"a":-2.86,"b":-1.6},{"a":-2.82,"b":-1.95},{"a":-2.85,"b":-2.25},{"a":-2.81,"b":-2.52},{"a":-2.85,"b":-2.78},{"a":-2.83,"b":-1.75},
{"a":-2.73,"b":-1.28},{"a":-2.69,"b":-1.55},{"a":-2.74,"b":-1.8},{"a":-2.7,"b":-2.1},{"a":-2.73,"b":-2.38},{"a":-2.69,"b":-2.62},{"a":-2.71,"b":-1.65},
{"a":-2.62,"b":-1.28},{"a":-2.58,"b":-1.55},{"a":-2.63,"b":-1.82},{"a":-2.59,"b":-2.1},{"a":-2.62,"b":-2.3},{"a":-2.58,"b":-2.48},{"a":-2.6,"b":-1.68},
{"a":-2.5,"b":-0.95},{"a":-2.46,"b":-1.25},{"a":-2.51,"b":-1.52},{"a":-2.47,"b":-1.78},{"a":-2.5,"b":-2.02},{"a":-2.46,"b":-1.38},
{"a":-2.38,"b":-0.35},{"a":-2.34,"b":-0.85},{"a":-2.39,"b":-1.15},{"a":-2.35,"b":-1.42},{"a":-2.38,"b":-1.7},{"a":-2.25,"b":-2},{"a":-2.36,"b":-1},
{"a":-2.28,"b":-0.15},{"a":-2.24,"b":-0.45},{"a":-2.29,"b":-0.75},{"a":-2.25,"b":-1.02},{"a":-2.28,"b":-1.3},{"a":-2.24,"b":-1.6},{"a":-2.26,"b":-0.6},
{"a":-2.16,"b":0.42},{"a":-2.12,"b":0},{"a":-2.17,"b":-0.3},{"a":-2.13,"b":-0.6},{"a":-2.16,"b":-0.85},{"a":-2.12,"b":-1.12},{"a":-2.14,"b":-0.15},
{"a":-2.04,"b":0.1},{"a":-2,"b":-0.2},{"a":-2.05,"b":-0.48},{"a":-2.01,"b":-0.75},{"a":-2.04,"b":-1.02},{"a":-2,"b":-1.28},{"a":-2.02,"b":-0.05},
{"a":-1.93,"b":0.65},{"a":-1.89,"b":0.1},{"a":-1.94,"b":-0.18},{"a":-1.9,"b":-0.48},{"a":-1.93,"b":-0.78},{"a":-1.89,"b":-1.05},{"a":-1.91,"b":0.6},
{"a":-1.82,"b":0.72},{"a":-1.78,"b":0.3},{"a":-1.83,"b":0},{"a":-1.79,"b":-0.3},{"a":-1.82,"b":-0.62},{"a":-1.78,"b":-0.88},{"a":-1.8,"b":0.62},
{"a":-1.72,"b":0.82},{"a":-1.68,"b":0.6},{"a":-1.73,"b":0.05},{"a":-1.69,"b":-0.25},{"a":-1.72,"b":-0.55},{"a":-1.68,"b":-0.78},{"a":-1.7,"b":0.72},
{"a":-1.6,"b":0.88},{"a":-1.56,"b":0.62},{"a":-1.61,"b":0.1},{"a":-1.57,"b":-0.2},{"a":-1.6,"b":-0.48},{"a":-1.56,"b":-0.82},{"a":-1.58,"b":0},
{"a":-1.48,"b":0.65},{"a":-1.44,"b":0.35},{"a":-1.49,"b":0.05},{"a":-1.45,"b":-0.25},{"a":-1.48,"b":-0.55},{"a":-1.44,"b":-0.85},{"a":-1.46,"b":0.45},
{"a":-1.36,"b":0.7},{"a":-1.32,"b":0.45},{"a":-1.37,"b":0.15},{"a":-1.33,"b":-0.12},{"a":-1.36,"b":-0.45},{"a":-1.32,"b":-0.75},{"a":-1.36,"b":-0.98},{"a":-1.34,"b":0.32},
{"a":-1.25,"b":0.7},{"a":-1.21,"b":0.42},{"a":-1.26,"b":0.12},{"a":-1.22,"b":-0.2},{"a":-1.25,"b":-0.55},{"a":-1.21,"b":-0.85},{"a":-1.25,"b":-1.12},{"a":-1.23,"b":0.55},
{"a":-1.13,"b":0.3},{"a":-1.09,"b":0.05},{"a":-1.14,"b":-0.3},{"a":-1.1,"b":-0.62},{"a":-1.13,"b":-0.95},{"a":-1.09,"b":-1.3},{"a":-1.11,"b":0.15},
{"a":-1.02,"b":0.35},{"a":-0.98,"b":0.02},{"a":-1.03,"b":-0.32},{"a":-0.99,"b":-0.72},{"a":-1.02,"b":-1.1},{"a":-0.98,"b":-1.55},{"a":-1,"b":-0.9},
{"a":-0.9,"b":0.12},{"a":-0.86,"b":-0.2},{"a":-0.91,"b":-0.55},{"a":-0.87,"b":-0.9},{"a":-0.9,"b":-1.22},{"a":-0.86,"b":-1.5},{"a":-0.88,"b":-1.05},
{"a":-0.78,"b":-0.22},{"a":-0.74,"b":-0.55},{"a":-0.79,"b":-0.82},{"a":-0.75,"b":-1.1},{"a":-0.78,"b":-1.35},{"a":-0.74,"b":-1.6},{"a":-0.76,"b":-0.68},
{"a":-0.67,"b":-0.48},{"a":-0.63,"b":-0.75},{"a":-0.68,"b":-1.02},{"a":-0.64,"b":-1.3},{"a":-0.72,"b":-1.95},{"a":-0.7,"b":-2.05},{"a":-0.65,"b":-0.88},
{"a":-0.55,"b":-0.72},{"a":-0.51,"b":-1},{"a":-0.56,"b":-1.3},{"a":-0.6,"b":-1.85},{"a":-0.6,"b":-2.12},{"a":-0.56,"b":-2.3},{"a":-0.53,"b":-2},
{"a":-0.45,"b":-0.88},{"a":-0.41,"b":-1.35},{"a":-0.5,"b":-1.72},{"a":-0.46,"b":-1.98},{"a":-0.5,"b":-2.35},{"a":-0.46,"b":-2.45},{"a":-0.43,"b":-2.15},
{"a":-0.34,"b":-1.02},{"a":-0.3,"b":-1.45},{"a":-0.35,"b":-1.75},{"a":-0.31,"b":-2.02},{"a":-0.34,"b":-2.32},{"a":-0.3,"b":-2.55},{"a":-0.32,"b":-1.9},
{"a":-0.22,"b":-1.2},{"a":-0.18,"b":-1.52},{"a":-0.23,"b":-1.82},{"a":-0.19,"b":-2.15},{"a":-0.22,"b":-2.45},{"a":-0.18,"b":-2.72},{"a":-0.2,"b":-1.68},
{"a":-0.12,"b":-1.15},{"a":-0.08,"b":-1.48},{"a":-0.13,"b":-1.8},{"a":-0.09,"b":-2.12},{"a":-0.12,"b":-2.42},{"a":-0.12,"b":-2.85},{"a":-0.08,"b":-2.95},{"a":-0.1,"b":-1.65},
{"a":0,"b":-1.12},{"a":0.04,"b":-1.42},{"a":-0.01,"b":-1.78},{"a":0.03,"b":-2.12},{"a":0,"b":-2.42},{"a":0.02,"b":-2.85},{"a":0.02,"b":-1.62},
{"a":0.11,"b":-1.05},{"a":0.15,"b":-1.38},{"a":0.1,"b":-1.75},{"a":0.14,"b":-2.05},{"a":0.11,"b":-2.35},{"a":0.13,"b":-2.85},{"a":0.12,"b":-1.2},
{"a":0.22,"b":-1.02},{"a":0.26,"b":-1.38},{"a":0.21,"b":-1.75},{"a":0.25,"b":-2.05},{"a":0.22,"b":-2.32},{"a":0.26,"b":-2.6},{"a":0.24,"b":-2.82},{"a":0.24,"b":-1.18},
{"a":0.34,"b":-0.98},{"a":0.38,"b":-1.3},{"a":0.33,"b":-1.62},{"a":0.37,"b":-1.95},{"a":0.34,"b":-2.22},{"a":0.36,"b":-2.52},{"a":0.36,"b":-1.12},
{"a":0.45,"b":-1.05},{"a":0.49,"b":-1.3},{"a":0.44,"b":-1.62},{"a":0.48,"b":-1.92},{"a":0.45,"b":-2.22},{"a":0.47,"b":-2.5},{"a":0.47,"b":-1.18},
{"a":0.56,"b":-0.6},{"a":0.6,"b":-0.95},{"a":0.55,"b":-1.25},{"a":0.59,"b":-1.55},{"a":0.56,"b":-1.85},{"a":0.58,"b":-2.12},{"a":0.58,"b":-1.08},
{"a":0.68,"b":-0.48},{"a":0.72,"b":-0.8},{"a":0.67,"b":-1.12},{"a":0.71,"b":-1.5},{"a":0.68,"b":-1.78},{"a":0.6,"b":-2.28},{"a":0.7,"b":-0.62},
{"a":0.8,"b":-0.38},{"a":0.84,"b":-0.72},{"a":0.79,"b":-1},{"a":0.83,"b":-1.28},{"a":0.8,"b":-1.55},{"a":0.82,"b":-1.8},{"a":0.82,"b":-1.15},
{"a":0.92,"b":-0.05},{"a":0.96,"b":-0.42},{"a":0.91,"b":-0.8},{"a":0.95,"b":-1.08},{"a":0.92,"b":-1.38},{"a":0.94,"b":-1.62},{"a":0.94,"b":-0.25},
{"a":1.02,"b":0.05},{"a":1.06,"b":-0.28},{"a":1.01,"b":-0.65},{"a":1.05,"b":-0.95},{"a":1.02,"b":-1.25},{"a":1.04,"b":-1.45},{"a":1.04,"b":-0.8},
{"a":1.12,"b":0.3},{"a":1.16,"b":0},{"a":1.11,"b":-0.3},{"a":1.15,"b":-0.62},{"a":1.12,"b":-0.9},{"a":1.14,"b":-1.2},{"a":1.14,"b":-0.75},
{"a":1.24,"b":0.38},{"a":1.28,"b":0.12},{"a":1.23,"b":-0.18},{"a":1.27,"b":-0.48},{"a":1.24,"b":-0.75},{"a":1.26,"b":-0.95},{"a":1.26,"b":0.25},
{"a":1.34,"b":0.78},{"a":1.38,"b":0.42},{"a":1.33,"b":0.12},{"a":1.37,"b":-0.2},{"a":1.34,"b":-0.52},{"a":1.36,"b":-0.85},{"a":1.36,"b":-0.05},
{"a":1.46,"b":0.82},{"a":1.5,"b":0.48},{"a":1.45,"b":0.2},{"a":1.49,"b":-0.15},{"a":1.46,"b":-0.5},{"a":1.48,"b":-0.92},{"a":1.48,"b":0.35},
{"a":1.58,"b":0.95},{"a":1.62,"b":0.55},{"a":1.57,"b":0.3},{"a":1.61,"b":-0.18},{"a":1.58,"b":-0.52},{"a":1.6,"b":-0.85},{"a":1.6,"b":-0.32},
{"a":1.7,"b":0.7},{"a":1.74,"b":0.42},{"a":1.69,"b":0.1},{"a":1.73,"b":-0.25},{"a":1.7,"b":-0.55},{"a":1.72,"b":-0.88},{"a":1.72,"b":-0.38},
{"a":1.82,"b":0.85},{"a":1.86,"b":0.55},{"a":1.81,"b":0.3},{"a":1.85,"b":-0.1},{"a":1.82,"b":-0.48},{"a":1.84,"b":-0.78},{"a":1.82,"b":-1.08},{"a":1.84,"b":-0.25},
{"a":1.94,"b":0.42},{"a":1.98,"b":0.32},{"a":1.93,"b":-0.12},{"a":1.97,"b":-0.42},{"a":1.94,"b":-0.72},{"a":1.96,"b":-1.05},{"a":1.96,"b":-0.25},
{"a":2.05,"b":0.4},{"a":2.09,"b":0.28},{"a":2.04,"b":-0.12},{"a":2.08,"b":-0.48},{"a":2.05,"b":-0.8},{"a":2.07,"b":-1.1},{"a":2.07,"b":-0.62},
{"a":2.17,"b":0.38},{"a":2.2,"b":0.25},{"a":2.16,"b":-0.2},{"a":2.21,"b":-0.6},{"a":2.17,"b":-0.95},{"a":2.2,"b":-1.3},{"a":2.17,"b":-1.45},{"a":2.19,"b":-0.75},
{"a":2.32,"b":-0.22},{"a":2.36,"b":-0.55},{"a":2.31,"b":-0.85},{"a":2.35,"b":-1.15},{"a":2.32,"b":-1.42},{"a":2.3,"b":-0.98},
{"a":2.44,"b":-0.3},{"a":2.48,"b":-0.65},{"a":2.43,"b":-0.98},{"a":2.47,"b":-1.28},{"a":2.44,"b":-1.6},{"a":2.46,"b":-1.85},{"a":2.46,"b":-1.1},
{"a":2.56,"b":-0.6},{"a":2.6,"b":-0.9},{"a":2.55,"b":-1.2},{"a":2.59,"b":-1.55},{"a":2.56,"b":-1.85},{"a":2.58,"b":-2.08},{"a":2.56,"b":-2.2},{"a":2.58,"b":-1.05},
{"a":2.68,"b":-0.75},{"a":2.72,"b":-1.08},{"a":2.67,"b":-1.42},{"a":2.71,"b":-1.75},{"a":2.68,"b":-2.1},{"a":2.7,"b":-2.3},{"a":2.68,"b":-2.5},{"a":2.7,"b":-1.6},
{"a":2.8,"b":-0.9},{"a":2.84,"b":-1.2},{"a":2.79,"b":-1.55},{"a":2.83,"b":-1.82},{"a":2.8,"b":-2.2},{"a":2.82,"b":-2.45},{"a":2.8,"b":-2.62},{"a":2.82,"b":-1},
{"a":2.92,"b":-1.2},{"a":2.96,"b":-1.5},{"a":2.91,"b":-1.9},{"a":2.95,"b":-2.2},{"a":2.92,"b":-2.5},{"a":2.94,"b":-2.7},{"a":2.94,"b":-1.35},
{"a":3.04,"b":-1.05},{"a":3.08,"b":-1.35},{"a":3.03,"b":-1.7},{"a":3.07,"b":-2},{"a":3.04,"b":-2.32},{"a":3.06,"b":-2.6},{"a":3.04,"b":-2.95},{"a":3.06,"b":-2.75},
{"a":3.16,"b":-1.08},{"a":3.2,"b":-1.42},{"a":3.15,"b":-1.72},{"a":3.19,"b":-2.02},{"a":3.16,"b":-2.35},{"a":3.18,"b":-2.68},{"a":3.2,"b":-3},{"a":3.18,"b":-2.85},
{"a":3.28,"b":-1.05},{"a":3.32,"b":-1.45},{"a":3.27,"b":-1.78},{"a":3.31,"b":-2.1},{"a":3.28,"b":-2.42},{"a":3.3,"b":-2.75},{"a":3.3,"b":-2.28},
{"a":3.4,"b":-1.2},{"a":3.44,"b":-1.5},{"a":3.39,"b":-1.85},{"a":3.43,"b":-2.15},{"a":3.4,"b":-2.45},{"a":3.42,"b":-2.75},{"a":3.42,"b":-2.3},
{"a":3.52,"b":-0.85},{"a":3.56,"b":-1.2},{"a":3.51,"b":-1.55},{"a":3.55,"b":-1.9},{"a":3.52,"b":-2.22},{"a":3.54,"b":-2.5},{"a":3.54,"b":-2.35},
{"a":3.64,"b":-0.78},{"a":3.68,"b":-1.1},{"a":3.63,"b":-1.42},{"a":3.67,"b":-1.75},{"a":3.64,"b":-2.08},{"a":3.66,"b":-2.28},{"a":3.66,"b":-1.28},
{"a":3.76,"b":-0.65},{"a":3.8,"b":-1},{"a":3.75,"b":-1.3},{"a":3.79,"b":-1.58},{"a":3.76,"b":-1.82},{"a":3.78,"b":-2},{"a":3.78,"b":-1.15},
{"a":3.88,"b":-0.2},{"a":3.92,"b":-0.58},{"a":3.87,"b":-0.98},{"a":3.91,"b":-1.25},{"a":3.88,"b":-1.55},{"a":3.9,"b":-1.12},
{"a":3.98,"b":-0.35},{"a":4.02,"b":-0.72},{"a":3.97,"b":-1.05},{"a":4.01,"b":-1.38},{"a":3.98,"b":-1.68},{"a":4,"b":-1.22},
{"a":4.1,"b":0.02},{"a":4.14,"b":-0.35},{"a":4.09,"b":-0.72},{"a":4.13,"b":-1.05},{"a":4.1,"b":-1.32},{"a":4.12,"b":-0.92},
{"a":4.2,"b":0.2},{"a":4.24,"b":-0.12},{"a":4.19,"b":-0.45},{"a":4.23,"b":-0.8},{"a":4.2,"b":-1.05},{"a":4.22,"b":-0.35},
{"a":4.3,"b":0.35},{"a":4.34,"b":0.02},{"a":4.29,"b":-0.32},{"a":4.33,"b":-0.68},{"a":4.3,"b":-0.98},{"a":4.32,"b":-0.5},
{"a":4.42,"b":0.68},{"a":4.46,"b":0.42},{"a":4.41,"b":0.08},{"a":4.45,"b":-0.28},{"a":4.42,"b":-0.62},{"a":4.44,"b":-0.98},{"a":4.44,"b":-0.48},
{"a":4.54,"b":0.82},{"a":4.58,"b":0.48},{"a":4.53,"b":0.15},{"a":4.57,"b":-0.22},{"a":4.54,"b":-0.6},{"a":4.56,"b":-1},{"a":4.56,"b":0.32},
{"a":4.64,"b":0.9},{"a":4.68,"b":0.55},{"a":4.63,"b":0.2},{"a":4.67,"b":-0.2},{"a":4.64,"b":-0.55},{"a":4.66,"b":-0.98},{"a":4.66,"b":0.78},
{"a":4.76,"b":0.88},{"a":4.8,"b":0.65},{"a":4.75,"b":0.28},{"a":4.79,"b":-0.12},{"a":4.76,"b":-0.5},{"a":4.78,"b":-0.95},{"a":4.78,"b":-0.32},
{"a":4.88,"b":0.88},{"a":4.92,"b":0.62},{"a":4.87,"b":0.25},{"a":4.91,"b":-0.15},{"a":4.88,"b":-0.48},{"a":4.9,"b":-0.92},{"a":4.9,"b":-0.32},
{"a":5,"b":0.78},{"a":5.04,"b":0.55},{"a":4.99,"b":0.18},{"a":5.03,"b":-0.2},{"a":5,"b":-0.55},{"a":5.02,"b":-0.88},{"a":5.02,"b":-0.38},
{"a":5.12,"b":0.58},{"a":5.16,"b":0.3},{"a":5.11,"b":0},{"a":5.15,"b":-0.35},{"a":5.12,"b":-0.68},{"a":5.14,"b":-1.12},{"a":5.14,"b":-0.5},
{"a":5.24,"b":0.52},{"a":5.28,"b":0.2},{"a":5.23,"b":-0.12},{"a":5.27,"b":-0.48},{"a":5.24,"b":-0.82},{"a":5.26,"b":-1.22},{"a":5.26,"b":-0.6},
{"a":5.36,"b":0.28},{"a":5.4,"b":0.02},{"a":5.35,"b":-0.32},{"a":5.39,"b":-0.65},{"a":5.36,"b":-0.95},{"a":5.38,"b":-1.35},{"a":5.38,"b":-0.48},
{"a":5.48,"b":0.05},{"a":5.52,"b":-0.22},{"a":5.47,"b":-0.52},{"a":5.51,"b":-0.82},{"a":5.48,"b":-1.15},{"a":5.5,"b":-1.45},{"a":5.5,"b":-0.68},
{"a":5.6,"b":-0.3},{"a":5.64,"b":-0.62},{"a":5.59,"b":-0.92},{"a":5.63,"b":-1.25},{"a":5.6,"b":-1.62},{"a":5.62,"b":-1.88},{"a":5.62,"b":-0.78},
{"a":5.72,"b":-0.5},{"a":5.76,"b":-0.78},{"a":5.71,"b":-1.08},{"a":5.75,"b":-1.42},{"a":5.72,"b":-1.8},{"a":5.74,"b":-2.05},{"a":5.72,"b":-2.2},{"a":5.74,"b":-1.25},
{"a":5.84,"b":-0.75},{"a":5.88,"b":-1.02},{"a":5.83,"b":-1.32},{"a":5.87,"b":-1.72},{"a":5.84,"b":-2.05},{"a":5.86,"b":-2.4},{"a":5.86,"b":-2.52},
{"a":5.96,"b":-0.85},{"a":6,"b":-1.18},{"a":5.95,"b":-1.5},{"a":5.99,"b":-1.85},{"a":5.96,"b":-2.12},{"a":5.98,"b":-2.45},{"a":5.98,"b":-1.32},
{"a":6.06,"b":-1.1},{"a":6.1,"b":-1.42},{"a":6.05,"b":-1.72},{"a":6.09,"b":-2.05},{"a":6.06,"b":-2.35},{"a":6.08,"b":-2.82},{"a":6.1,"b":-1.25},
{"a":6.16,"b":-1.05},{"a":6.2,"b":-1.38},{"a":6.15,"b":-1.72},{"a":6.19,"b":-2.08},{"a":6.16,"b":-2.42},{"a":6.18,"b":-2.88},{"a":6.2,"b":-1.9},
{"a":6.25,"b":-1.35},{"a":6.27,"b":-1.6},{"a":6.24,"b":-1.95},{"a":6.27,"b":-2.25},{"a":6.25,"b":-2.6},{"a":6.28,"b":-2.82},{"a":6.22,"b":-2.98},{"a":6.26,"b":-2.75}
]},
"mark":{"type":"circle","size":185,"color":"#4C72B0","opacity":1},
"encoding":{
"x":{"field":"a","type":"quantitative","scale":{"domain":[-6.892,6.9],"nice":false,"zero":false},
"axis":{"values":[-6,-4,-2,0,2,4,6],"title":"x₀","titleFont":"DejaVu Sans","titleFontStyle":"italic","titleFontWeight":"normal","titleFontSize":27,"titleColor":"#4C72B0","titlePadding":14,"labelFont":"Roboto","labelFontWeight":500,"labelFontSize":19,"labelColor":"#4C72B0","labelPadding":18,"domain":false,"ticks":false,"grid":true,"gridColor":"#FFFFFF","gridWidth":1.6,"format":"d","labelExpr":"replace(datum.label,'-','−')"}},
"y":{"field":"b","type":"quantitative","scale":{"domain":[-3.398,5.33],"nice":false,"zero":false},
"axis":{"values":[-3,-2,-1,0,1,2,3,4,5],"title":"x₁","titleFont":"DejaVu Sans","titleFontStyle":"italic","titleFontWeight":"normal","titleFontSize":27,"titleColor":"#4C72B0","titlePadding":24,"labelFont":"Roboto","labelFontWeight":500,"labelFontSize":19,"labelColor":"#4C72B0","labelPadding":22,"domain":false,"ticks":false,"grid":true,"gridColor":"#FFFFFF","gridWidth":1.6,"format":"d","labelExpr":"replace(datum.label,'-','−')"}}
}}
